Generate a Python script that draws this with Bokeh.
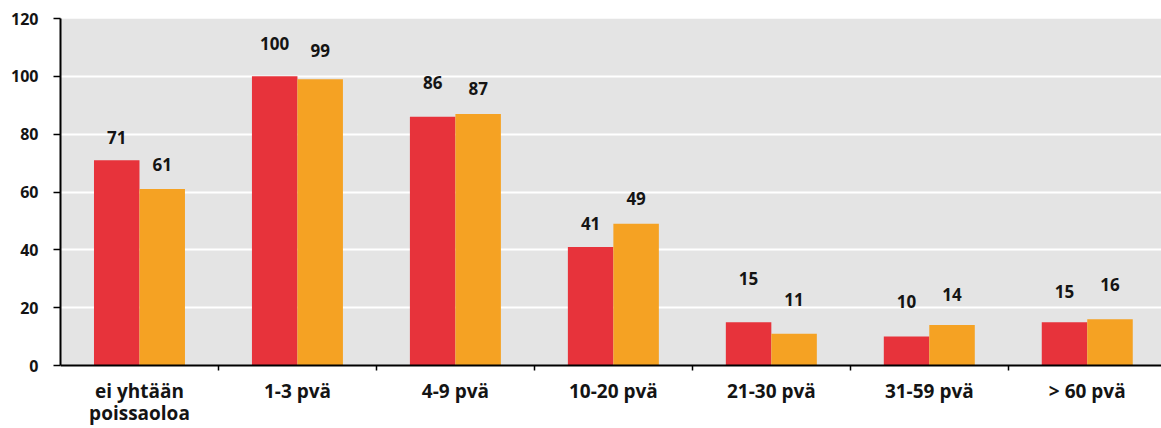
from bokeh.plotting import figure
from bokeh.models import ColumnDataSource, FixedTicker, Range1d, BoxAnnotation
from bokeh.core.properties import value
from bokeh.embed import file_html
from bokeh.resources import INLINE

# Absence categories and the two series
categories = ["ei yhtään\npoissaoloa", "1-3 pvä", "4-9 pvä", "10-20 pvä",
              "21-30 pvä", "31-59 pvä", "> 60 pvä"]
series_a = [71, 100, 86, 41, 15, 10, 15]
series_b = [61, 99, 87, 49, 11, 14, 16]
y_ticks = [0, 20, 40, 60, 80, 100, 120]
Y_MAX = 120

# Pixel lift of each value label above its bar
lift_a = [23, 33, 34, 23, 44, 35, 31]
lift_b = [25, 29, 25, 25, 34, 31, 35]

RED = "#E7333B"
ORANGE = "#F5A223"
INK = "#141414"
FONT = "Open Sans"

n = len(categories)
xs = list(range(n))
bw = 0.288
src_a = ColumnDataSource(dict(x=[i - bw / 2 for i in xs], top=series_a,
                              label=[str(v) for v in series_a],
                              off=[-v for v in lift_a]))
src_b = ColumnDataSource(dict(x=[i + bw / 2 for i in xs], top=series_b,
                              label=[str(v) for v in series_b],
                              off=[-v for v in lift_b]))
src_cat = ColumnDataSource(dict(x=xs, y=[0] * n, name=categories))

# The frame runs down to the page bottom so the category names fit under the
# zero line; the grey panel only covers 0..Y_MAX.
px_per_unit = 347 / Y_MAX
y_start = -(410 - 347) / px_per_unit

p = figure(width=1161, height=428, output_backend="svg", toolbar_location=None,
           x_range=Range1d(-0.5, n - 0.53), y_range=Range1d(y_start, Y_MAX),
           min_border_left=60, min_border_right=0, min_border_top=18,
           min_border_bottom=0)
p.background_fill_color = "white"
p.border_fill_color = "white"
p.outline_line_color = None

p.add_layout(BoxAnnotation(bottom=0, top=Y_MAX, fill_color="#E4E4E4",
                           fill_alpha=1, line_color=None, level="image"))

p.vbar(x="x", top="top", width=bw, bottom=0, source=src_a,
       fill_color=RED, line_color=None)
p.vbar(x="x", top="top", width=bw, bottom=0, source=src_b,
       fill_color=ORANGE, line_color=None)

for src in (src_a, src_b):
    p.text(x="x", y="top", text="label", y_offset="off", source=src,
           text_align="center", text_baseline="middle",
           text_font=value(FONT), text_font_style="bold",
           text_font_size="17px", text_color=INK)

# Category names under the zero line
p.text(x="x", y="y", text="name", source=src_cat, y_offset=12,
       text_align="center", text_baseline="top",
       text_font=value(FONT), text_font_style="bold",
       text_font_size="19px", text_color=INK, text_line_height=0.86)

# Grid
p.xgrid.visible = False
p.ygrid.grid_line_color = "white"
p.ygrid.grid_line_width = 2
p.ygrid.ticker = FixedTicker(ticks=[20, 40, 60, 80, 100])

# Y axis
ya = p.yaxis[0]
ya.ticker = FixedTicker(ticks=y_ticks)
ya.bounds = (0, Y_MAX)
ya.axis_line_color = "black"
ya.axis_line_width = 2
ya.major_tick_line_color = "black"
ya.major_tick_line_width = 1.5
ya.major_tick_out = 7
ya.major_tick_in = 0
ya.minor_tick_line_color = None
ya.major_label_standoff = 15
ya.major_label_text_font = FONT
ya.major_label_text_font_style = "bold"
ya.major_label_text_font_size = "16px"
ya.major_label_text_color = INK

# X axis along the zero line, tick marks between categories only
xa = p.xaxis[0]
xa.fixed_location = 0
xa.ticker = FixedTicker(ticks=[], minor_ticks=[i + 0.5 for i in xs[:-1]])
xa.axis_line_color = "black"
xa.axis_line_width = 2
xa.major_tick_line_color = None
xa.major_label_text_font_size = "0px"
xa.minor_tick_line_color = "black"
xa.minor_tick_line_width = 1.5
xa.minor_tick_out = 5
xa.minor_tick_in = 0

open("out.html", "w").write(file_html(p, INLINE))
